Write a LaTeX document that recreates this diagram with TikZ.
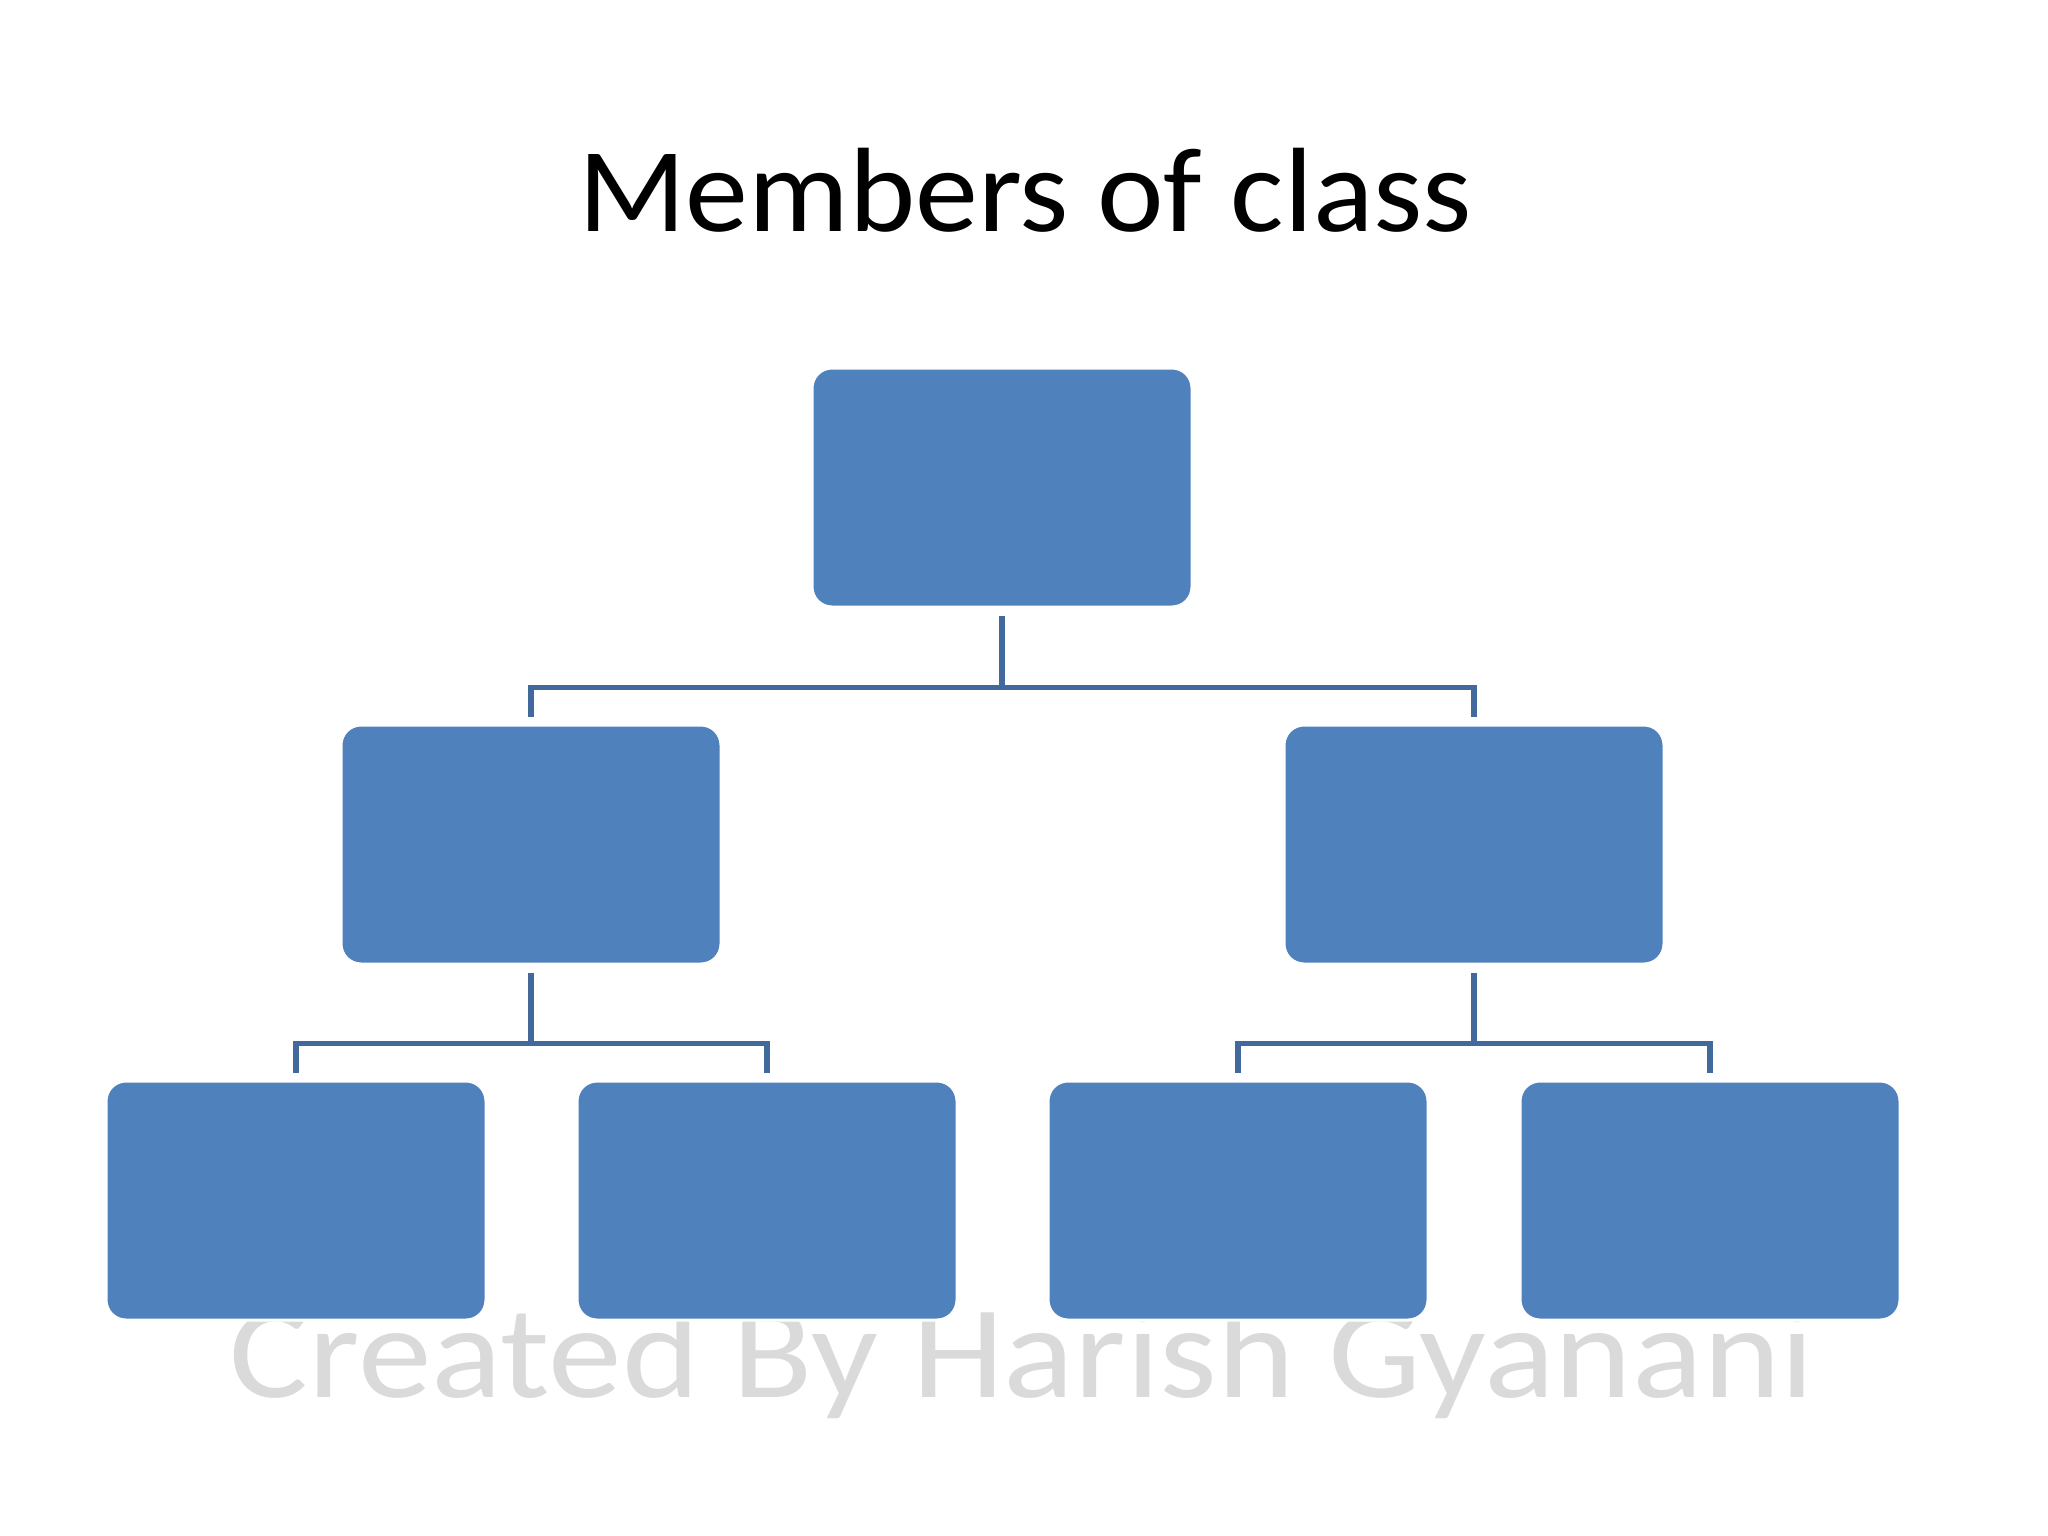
\documentclass[tikz,border=0pt]{standalone}
\usepackage{fontspec}
\setmainfont{Carlito}
\usetikzlibrary{calc}
\definecolor{boxblue}{HTML}{4F81BD}
\definecolor{linkblue}{HTML}{41699C}
\definecolor{wmgray}{HTML}{DADADA}
\tikzset{
  orgbox/.style={rectangle, rounded corners=20pt, fill=boxblue, draw=white, line width=3pt,
    minimum width=380pt, minimum height=239pt, inner sep=0pt},
  conn/.style={draw=linkblue, line width=5.5pt, shorten <=7pt, shorten >=7pt},
  titletext/.style={anchor=base, inner sep=0pt, xscale=1.05, font=\fontsize{120}{144}\selectfont},
  wmtext/.style={anchor=base, inner sep=0pt, xscale=1.118, text=wmgray, font=\fontsize{132}{150}\selectfont}
}
\begin{document}
\begin{tikzpicture}[x=1pt, y=-1pt]
\fill[white] (0,0) rectangle (2048,1536);
\useasboundingbox (0,0) rectangle (2048,1536);
\node[titletext] (title) at (1025,231) {Members of class};
\node[wmtext] (wm) at (1022,1397) {Created By Harish Gyanani};
\node[orgbox] (top) at (1002,487.5) {};
\node[orgbox] (ml) at (531,844.5) {};
\node[orgbox] (mr) at (1474,844.5) {};
\node[orgbox] (b1) at (296,1200.5) {};
\node[orgbox] (b2) at (767,1200.5) {};
\node[orgbox] (b3) at (1238,1200.5) {};
\node[orgbox] (b4) at (1710,1200.5) {};
\draw[conn] (top.south) -- ++(0,79) -| (ml.north);
\draw[conn] (top.south) -- ++(0,79) -| (mr.north);
\draw[conn] (ml.south) -- ++(0,78) -| (b1.north);
\draw[conn] (ml.south) -- ++(0,78) -| (b2.north);
\draw[conn] (mr.south) -- ++(0,78) -| (b3.north);
\draw[conn] (mr.south) -- ++(0,78) -| (b4.north);
\end{tikzpicture}
\end{document}
